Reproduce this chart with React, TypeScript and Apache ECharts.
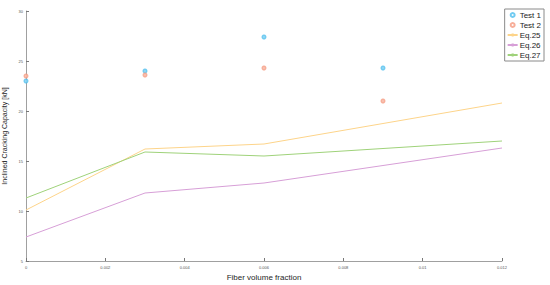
import React, { useEffect, useRef } from "react";
import * as echarts from "echarts";

const fractions = [0, 0.003, 0.006, 0.009];
const test1 = [23.0, 24.0, 27.4, 24.3];
const test2 = [23.5, 23.6, 24.3, 21.0];

const eqFractions = [0, 0.003, 0.006, 0.012];
const eq25 = [10.1, 16.2, 16.7, 20.8];
const eq26 = [7.4, 11.8, 12.8, 16.3];
const eq27 = [11.3, 15.9, 15.5, 17.0];

const xTicks = [0, 0.002, 0.004, 0.006, 0.008, 0.01, 0.012];
const yTicks = [5, 10, 15, 20, 25, 30];

const pair = (xs: number[], ys: number[]) => xs.map((x, i) => [x, ys[i]]);

export default function App() {
  const ref = useRef<HTMLDivElement>(null);
  useEffect(() => {
    if (!ref.current) return;
    const chart = echarts.init(ref.current, undefined, { renderer: "svg" });
    const font = "Liberation Sans, Arial, sans-serif";
    const axisColor = "#a0a0a0";
    chart.setOption({
      animation: false,
      backgroundColor: "#fff",
      textStyle: { fontFamily: font },
      grid: {
        left: 26,
        right: 48,
        top: 11,
        bottom: 24,
        containLabel: false,
        outerBoundsMode: "none",
      },
      legend: {
        right: 6,
        top: 9,
        orient: "vertical",
        itemGap: 2,
        itemWidth: 10,
        itemHeight: 4,
        padding: [2, 3, 2, 2],
        borderColor: "#8a8a8a",
        borderWidth: 1,
        backgroundColor: "#fff",
        textStyle: { fontSize: 8, color: "#222", padding: [0, 0, 0, -3], fontFamily: font },
        data: [
          { name: "Test 1", icon: "emptyCircle" },
          { name: "Test 2", icon: "emptyCircle" },
          { name: "Eq.25" },
          { name: "Eq.26" },
          { name: "Eq.27" },
        ],
      },
      xAxis: {
        type: "value",
        min: xTicks[0],
        max: xTicks[xTicks.length - 1],
        interval: 0.002,
        name: "Fiber volume fraction",
        nameLocation: "middle",
        nameGap: 11,
        nameTextStyle: { fontSize: 8, color: "#262626", fontFamily: font },
        axisLine: { lineStyle: { color: axisColor, width: 1 } },
        axisTick: { inside: true, length: 3, lineStyle: { color: "#777" } },
        axisLabel: {
          fontSize: 4,
          color: "#555",
          margin: 4,
          formatter: (v: number) => String(+v.toFixed(3)),
        },
        splitLine: { show: false },
      },
      yAxis: {
        type: "value",
        min: yTicks[0],
        max: yTicks[yTicks.length - 1],
        interval: 5,
        name: "Inclined Cracking Capacity [kN]",
        nameLocation: "middle",
        nameGap: 11,
        nameTextStyle: { fontSize: 7, color: "#262626", fontFamily: font },
        axisLine: { show: true, lineStyle: { color: axisColor, width: 1 } },
        axisTick: { show: true, inside: true, length: 3, lineStyle: { color: "#777" } },
        axisLabel: { fontSize: 4, color: "#555", margin: 3 },
        splitLine: { show: false },
      },
      series: [
        {
          name: "Test 1",
          type: "scatter",
          symbol: "emptyCircle",
          symbolSize: 3,
          itemStyle: { color: "#4dbeee", borderWidth: 1 },
          data: pair(fractions, test1),
          z: 5,
        },
        {
          name: "Test 2",
          type: "scatter",
          symbol: "emptyCircle",
          symbolSize: 3,
          itemStyle: { color: "#f59a80", borderWidth: 1 },
          data: pair(fractions, test2),
          z: 5,
        },
        {
          name: "Eq.25",
          type: "line",
          symbol: "none",
          lineStyle: { color: "#fdd48a", width: 1 },
          itemStyle: { color: "#fdd48a" },
          data: pair(eqFractions, eq25),
        },
        {
          name: "Eq.26",
          type: "line",
          symbol: "none",
          lineStyle: { color: "#d79fd7", width: 1 },
          itemStyle: { color: "#d79fd7" },
          data: pair(eqFractions, eq26),
        },
        {
          name: "Eq.27",
          type: "line",
          symbol: "none",
          lineStyle: { color: "#9fd27a", width: 1 },
          itemStyle: { color: "#9fd27a" },
          data: pair(eqFractions, eq27),
        },
      ],
    });
    return () => chart.dispose();
  }, []);
  return (
    <div
      ref={ref}
      style={{ position: "fixed", left: 0, top: 0, width: 550, height: 285 }}
    />
  );
}
